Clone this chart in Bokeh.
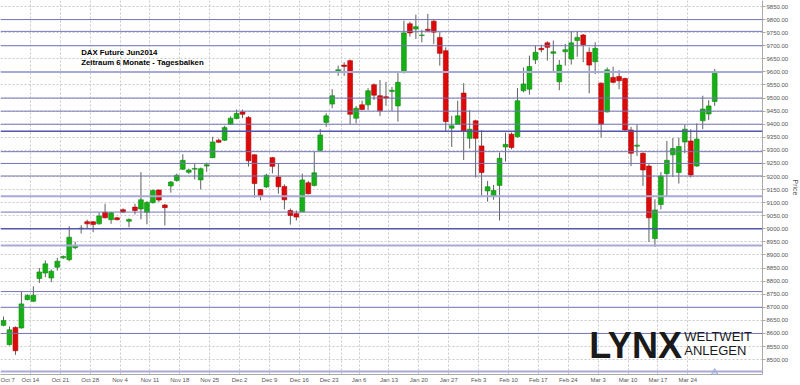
from bokeh.plotting import figure
from bokeh.models import FixedTicker, NumeralTickFormatter, Span, Label, ColumnDataSource, Range1d, Title
from bokeh.embed import file_html
from bokeh.resources import INLINE

# Daily bars, DAX Future Jun2014, trading days Oct 7 2013 .. Mar 28 2014
opens = [8631, 8557, 8623, 8621, 8729, 8723, 8810, 8831, 8812, 8853,
         8889, 8882, 8928, 9000, 9027, 9027, 9019, 9063, 9035, 9042,
         9073, 9029, 9083, 9076, 9063, 9100, 9148, 9091, 9164, 9185,
         9228, 9216, 9228, 9187, 9240, 9272, 9339, 9339, 9400, 9422,
         9447, 9426, 9283, 9150, 9160, 9272, 9198, 9162, 9070, 9058,
         9065, 9176, 9166, 9300, 9407, 9477, 9602, 9626, 9643, 9423,
         9474, 9474, 9551, 9509, 9505, 9525, 9470, 9598, 9784, 9764,
         9739, 9763, 9794, 9732, 9681, 9385, 9400, 9519, 9346, 9413,
         9317, 9145, 9125, 9166, 9313, 9362, 9352, 9528, 9534, 9646,
         9690, 9711, 9671, 9562, 9677, 9649, 9720, 9741, 9675, 9639,
         9557, 9447, 9579, 9582, 9575, 9378, 9316, 9289, 9240, 8963,
         9093, 9211, 9283, 9215, 9332, 9336, 9240, 9413, 9439, 9487]
highs = [8665, 8627, 8627, 8761, 8750, 8780, 8850, 8879, 8845, 8889,
         8898, 9010, 8950, 9014, 9035, 9030, 9062, 9096, 9064, 9046,
         9078, 9040, 9096, 9217, 9106, 9150, 9151, 9095, 9183, 9211,
         9285, 9230, 9249, 9234, 9253, 9352, 9345, 9394, 9430, 9456,
         9456, 9431, 9285, 9152, 9210, 9275, 9251, 9170, 9078, 9070,
         9211, 9183, 9294, 9381, 9442, 9534, 9624, 9637, 9647, 9470,
         9490, 9538, 9556, 9569, 9562, 9543, 9601, 9796, 9792, 9819,
         9761, 9822, 9799, 9752, 9694, 9432, 9490, 9557, 9454, 9417,
         9377, 9183, 9168, 9292, 9368, 9368, 9538, 9617, 9662, 9700,
         9704, 9717, 9720, 9646, 9707, 9755, 9755, 9745, 9694, 9713,
         9560, 9617, 9620, 9607, 9578, 9390, 9398, 9292, 9247, 9113,
         9217, 9336, 9347, 9349, 9398, 9381, 9403, 9509, 9492, 9611]
lows = [8627, 8554, 8518, 8618, 8727, 8720, 8793, 8815, 8796, 8840,
        8885, 8876, 8922, 8982, 9001, 8987, 9016, 9040, 9019, 9032,
        9060, 9006, 9055, 9036, 9017, 9097, 9102, 9013, 9138, 9180,
        9225, 9210, 9189, 9151, 9218, 9270, 9328, 9336, 9398, 9419,
        9423, 9238, 9119, 9109, 9157, 9212, 9134, 9074, 9016, 9032,
        9065, 9132, 9162, 9298, 9390, 9461, 9585, 9585, 9400, 9403,
        9454, 9454, 9493, 9432, 9470, 9451, 9410, 9594, 9735, 9726,
        9713, 9751, 9707, 9624, 9372, 9313, 9400, 9263, 9307, 9196,
        9122, 9104, 9111, 9032, 9257, 9304, 9349, 9522, 9513, 9630,
        9675, 9643, 9602, 9530, 9624, 9628, 9658, 9637, 9518, 9592,
        9349, 9445, 9556, 9534, 9374, 9240, 9279, 9164, 8950, 8931,
        9074, 9125, 9198, 9173, 9289, 9196, 9237, 9381, 9416, 9470]
closes = [8649, 8614, 8534, 8713, 8745, 8746, 8835, 8866, 8838, 8876,
          8894, 8968, 8936, 9003, 9019, 9017, 9049, 9042, 9061, 9035,
          9064, 9036, 9070, 9111, 9101, 9147, 9110, 9081, 9179, 9205,
          9262, 9225, 9231, 9230, 9245, 9332, 9331, 9387, 9423, 9441,
          9438, 9260, 9173, 9127, 9205, 9239, 9161, 9111, 9051, 9045,
          9187, 9134, 9214, 9359, 9432, 9509, 9608, 9621, 9438, 9461,
          9456, 9528, 9511, 9451, 9500, 9530, 9560, 9749, 9749, 9773,
          9741, 9758, 9752, 9671, 9410, 9394, 9432, 9372, 9381, 9346,
          9215, 9161, 9147, 9270, 9323, 9311, 9490, 9554, 9621, 9675,
          9685, 9694, 9677, 9626, 9685, 9711, 9732, 9704, 9626, 9690,
          9400, 9608, 9560, 9566, 9378, 9289, 9320, 9225, 9042, 9072,
          9202, 9262, 9307, 9315, 9381, 9206, 9343, 9458, 9470, 9602]

# First trading day of each week (index into the bars) and its label
week_starts = [0, 5, 10, 15, 20, 25, 30, 35, 40, 45, 50, 55, 57, 60, 65, 70,
               75, 80, 85, 90, 95, 100, 105, 110, 115]
week_labels = ["Oct 7", "Oct 14", "Oct 21", "Oct 28", "Nov 4", "Nov 11", "Nov 18",
               "Nov 25", "Dec 2", "Dec 9", "Dec 16", "Dec 23", "", "Jan 6", "Jan 13",
               "Jan 20", "Jan 27", "Feb 3", "Feb 10", "Feb 17", "Feb 24", "Mar 3",
               "Mar 10", "Mar 17", "Mar 24"]

price_ticks = list(range(8500, 9851, 50))

# Horizontal support / resistance levels
levels_normal = [9800, 9755, 9700, 9500, 9450, 9400, 9295, 9250, 9202, 9064, 8760, 8700, 8600]
levels_strong = [9373, 9000]
levels_light = [9600, 9125, 8936, 8454]

n = len(opens)
xs = [i + 0.5 for i in range(n)]
up = [c >= o for o, c in zip(opens, closes)]
src = ColumnDataSource(dict(
    x=xs, open=opens, close=closes, high=highs, low=lows,
    top=[max(o, c) for o, c in zip(opens, closes)],
    bottom=[min(o, c) for o, c in zip(opens, closes)],
    fill=["#16b016" if u else "#dd0a0a" for u in up],
    line=["#0c8c0c" if u else "#b00000" for u in up],
))

x_end = 127.5
y_lo, y_hi = 8443, 9873
p = figure(width=800, height=385, output_backend="svg", toolbar_location=None,
           x_range=Range1d(0, x_end), y_range=Range1d(y_lo, y_hi),
           y_axis_location="right", min_border_left=0, min_border_top=0,
           min_border_right=0, min_border_bottom=0)
p.outline_line_color = None
p.background_fill_color = "white"
p.border_fill_color = "white"

for lv in levels_light:
    p.add_layout(Span(location=lv, dimension="width", line_color="#a9a9d8", line_width=2))
for lv in levels_normal:
    p.add_layout(Span(location=lv, dimension="width", line_color="#7474b8", line_width=1))
for lv in levels_strong:
    p.add_layout(Span(location=lv, dimension="width", line_color="#5555b0", line_width=1.5))

p.segment(x0="x", y0="high", x1="x", y1="low", source=src, line_color="#606060", line_width=1)
p.vbar(x="x", width=0.8, top="top", bottom="bottom", source=src,
       fill_color="fill", line_color="line", line_width=0.6)

# marker at the last bar on the bottom edge
p.scatter([xs[-1]], [8450], marker="triangle", size=7, fill_color="#cfe0f4",
          line_color="#8fb0d8")

# axes
p.xaxis.ticker = FixedTicker(ticks=week_starts)
p.xaxis.major_label_overrides = {w: l for w, l in zip(week_starts, week_labels)}
p.yaxis.ticker = FixedTicker(ticks=price_ticks)
p.yaxis.formatter = NumeralTickFormatter(format="0.00")
for ax in (p.xaxis[0], p.yaxis[0]):
    ax.major_label_text_font = "Liberation Sans"
    ax.major_label_text_font_size = "6px"
    ax.major_label_text_color = "#555555"
    ax.axis_line_color = "#aaaaaa"
    ax.minor_tick_line_color = None
    ax.major_tick_in = 0
p.xaxis.major_label_standoff = 2
p.yaxis.major_label_standoff = 1
p.xaxis.major_tick_line_color = None
p.xaxis.major_tick_out = 0
p.yaxis.major_tick_out = 3
p.yaxis.major_tick_line_color = "#aaaaaa"

# axis title to the right of the price labels
p.add_layout(Title(text="Price", align="center", text_font="Liberation Sans",
                   text_font_size="7px", text_font_style="normal", text_color="#555555",
                   standoff=0, offset=0), "right")

for g in (p.xgrid[0], p.ygrid[0]):
    g.grid_line_color = "#c8c8c8"
    g.grid_line_dash = "2 2"
    g.grid_line_width = 1

# titles
p.add_layout(Label(x=13.5, y=9658, text="DAX Future Jun2014", text_font="Liberation Sans",
                   text_font_size="7.8px", text_font_style="bold", text_color="black"))
p.add_layout(Label(x=13.5, y=9620, text="Zeitraum 6 Monate - Tagesbalken", text_font="Liberation Sans",
                   text_font_size="7.8px", text_font_style="bold", text_color="black"))

# logo
logo_font = "Liberation Sans"
p.add_layout(Label(x=98.5, y=8477, text="LYNX", text_font=logo_font,
                   text_font_size="36px", text_font_style="bold", text_color="#1a1a1a"))
p.add_layout(Label(x=114.4, y=8560, text="WELTWEIT", text_font=logo_font,
                   text_font_size="13px", text_color="#1a1a1a"))
p.add_layout(Label(x=114.4, y=8505, text="ANLEGEN", text_font=logo_font,
                   text_font_size="13px", text_color="#1a1a1a"))

open("out.html", "w").write(file_html(p, INLINE))
